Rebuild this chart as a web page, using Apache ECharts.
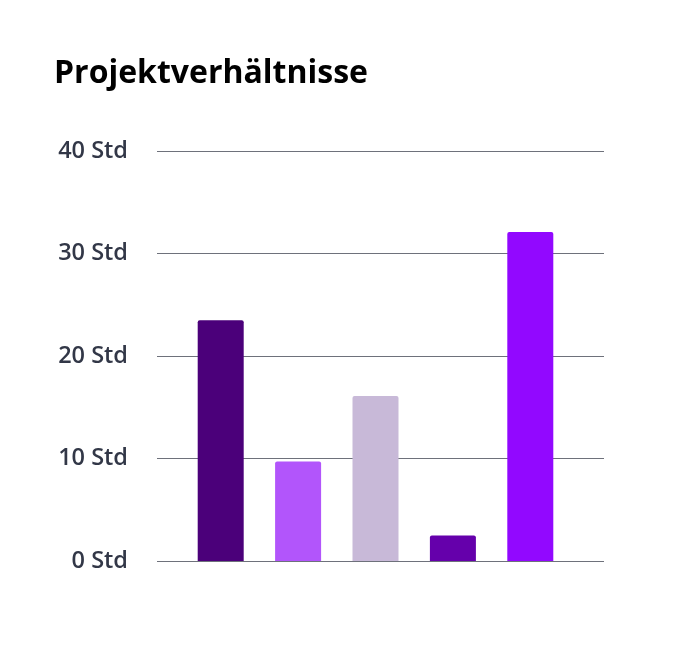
<!DOCTYPE html>
<html>
<head>
<meta charset="utf-8">
<script src="https://cdn.jsdelivr.net/npm/echarts@6/dist/echarts.min.js"></script>
<style>
html,body{margin:0;padding:0;background:#fff;}
#c{width:698px;height:669px;}
</style>
</head>
<body>
<div id="c"></div>
<script>
const categories = ['A', 'B', 'C', 'D', 'E'];
const values = [23.5, 9.7, 16.1, 2.5, 32.1];
const barColors = ['#4B007A', '#B255FB', '#C8B9D8', '#6500AB', '#9208FF'];
const yTicks = [0, 10, 20, 30, 40];
const unit = ' Std';

const chart = echarts.init(document.getElementById('c'));
chart.setOption({
  animation: false,
  backgroundColor: '#ffffff',
  title: {
    text: 'Projektverhältnisse',
    left: 49, top: 53,
    textStyle: {fontFamily: 'Open Sans', fontWeight: 'bold', fontSize: 32, color: '#000'}
  },
  grid: [
    {left: 157, right: 94, top: 151, bottom: 108},
    {left: 182, right: 129, top: 151, bottom: 108}
  ],
  xAxis: [
    {type: 'category', gridIndex: 0, data: categories, show: false},
    {type: 'category', gridIndex: 1, data: categories, show: false}
  ],
  yAxis: [
    {
      type: 'value', gridIndex: 0, min: yTicks[0], max: yTicks[yTicks.length - 1], interval: 10,
      axisLine: {show: false}, axisTick: {show: false},
      axisLabel: {
        margin: 29, fontFamily: 'Open Sans', fontWeight: 600, fontSize: 23.5, color: '#323747',
        formatter: v => v + unit
      },
      splitLine: {lineStyle: {color: '#6e717b', width: 1}}
    },
    {
      type: 'value', gridIndex: 1, min: yTicks[0], max: yTicks[yTicks.length - 1], interval: 10,
      show: false, splitLine: {show: false}
    }
  ],
  series: [{
    type: 'bar',
    xAxisIndex: 1, yAxisIndex: 1,
    barWidth: 46,
    data: values.map((v, i) => ({value: v, itemStyle: {color: barColors[i], borderRadius: [2, 2, 0, 0]}}))
  }]
});
</script>
</body>
</html>
